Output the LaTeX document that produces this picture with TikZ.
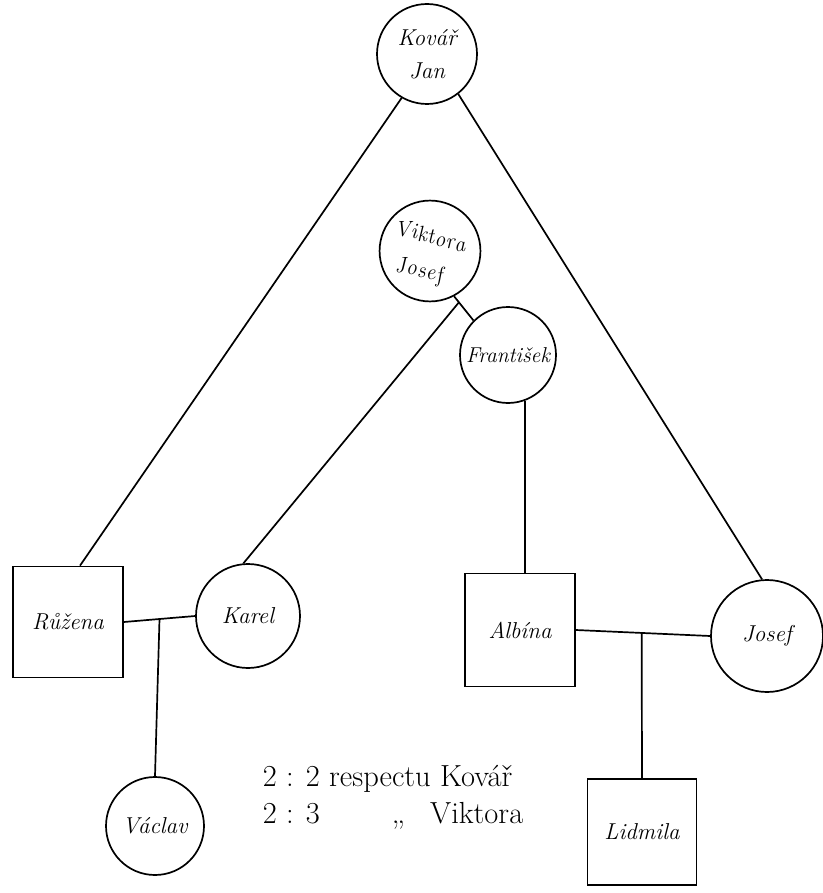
\documentclass[tikz,border=0pt]{standalone}
\usepackage{fontspec}
\usepackage{graphicx}
% letters stepping down one after another, for a sloping baseline
\newcommand{\dn}[2]{\raisebox{-#1pt}{#2}}
\begin{document}
\begin{tikzpicture}[x=1pt, y=-1pt, line width=1.7pt,
  person/.style={draw, circle, inner sep=0pt, align=center,
    font=\fontsize{23}{33}\selectfont\itshape},
  kidbox/.style={draw, rectangle, inner sep=0pt, align=center,
    font=\fontsize{23}{33}\selectfont\itshape},
  legendtext/.style={inner sep=0pt, align=left, anchor=base west,
    font=\fontsize{30.5}{37}\selectfont}]
\useasboundingbox (0,0) rectangle (822,893);

% generations
\node[person, minimum size=100pt] (kovar) at (427,54) {Kovář\\Jan};
\node[person, minimum size=100pt, font=\fontsize{22}{30}\selectfont\itshape] (viktor) at (430,251)
  {\begin{tabular}{@{}l@{}}
     V\dn{2.5}{i}\dn{5}{k}\dn{7.5}{t}\dn{10}{o}\dn{12.5}{r}\dn{15}{a}\\[3pt]
     J\dn{2.5}{o}\dn{5}{s}\dn{7.5}{e}\dn{10}{f}
   \end{tabular}};
\node[person, minimum size=96pt, font=\fontsize{21.5}{26}\selectfont\itshape]
  (frantisek) at (508,355) {František};
\node[kidbox, minimum width=110pt, minimum height=111pt] (ruzena) at (68,622) {Růžena};
\node[person, minimum size=104pt] (karel) at (248,616) {Karel};
\node[kidbox, minimum width=110pt, minimum height=113pt] (albina) at (520,630) {Albína};
\node[person, minimum size=112pt] (josef) at (767,636) {Josef};
\node[person, minimum size=98pt] (vaclav) at (155,826) {Václav};
\node[kidbox, minimum width=109pt, minimum height=106pt] (lidmila) at (642,832) {Lidmila};

% descent lines
\draw (kovar.-120) -- ([xshift=12pt]ruzena.north);
\draw (kovar.-52) -- (josef.95);
\draw (viktor.-62) -- coordinate[pos=0.25] (fork) (frantisek.135);
\draw (fork) -- (karel.95);
\draw (frantisek.-70) -- (frantisek.-70 |- albina.north);

% marriages and their children
\draw (ruzena.east) -- coordinate[pos=0.5] (m1) (karel.west);
\draw (m1) -- (vaclav.north);
\draw (albina.east) -- coordinate[pos=0.49] (m2) (josef.west);
\draw (m2) -- (lidmila.north);

% degrees of kinship
\node[legendtext] (legend) at (262,823)
  {2 : 2 respectu Kovář\\2 : 3\hspace{72pt},,\hspace{25pt}Viktora};
\end{tikzpicture}
\end{document}
